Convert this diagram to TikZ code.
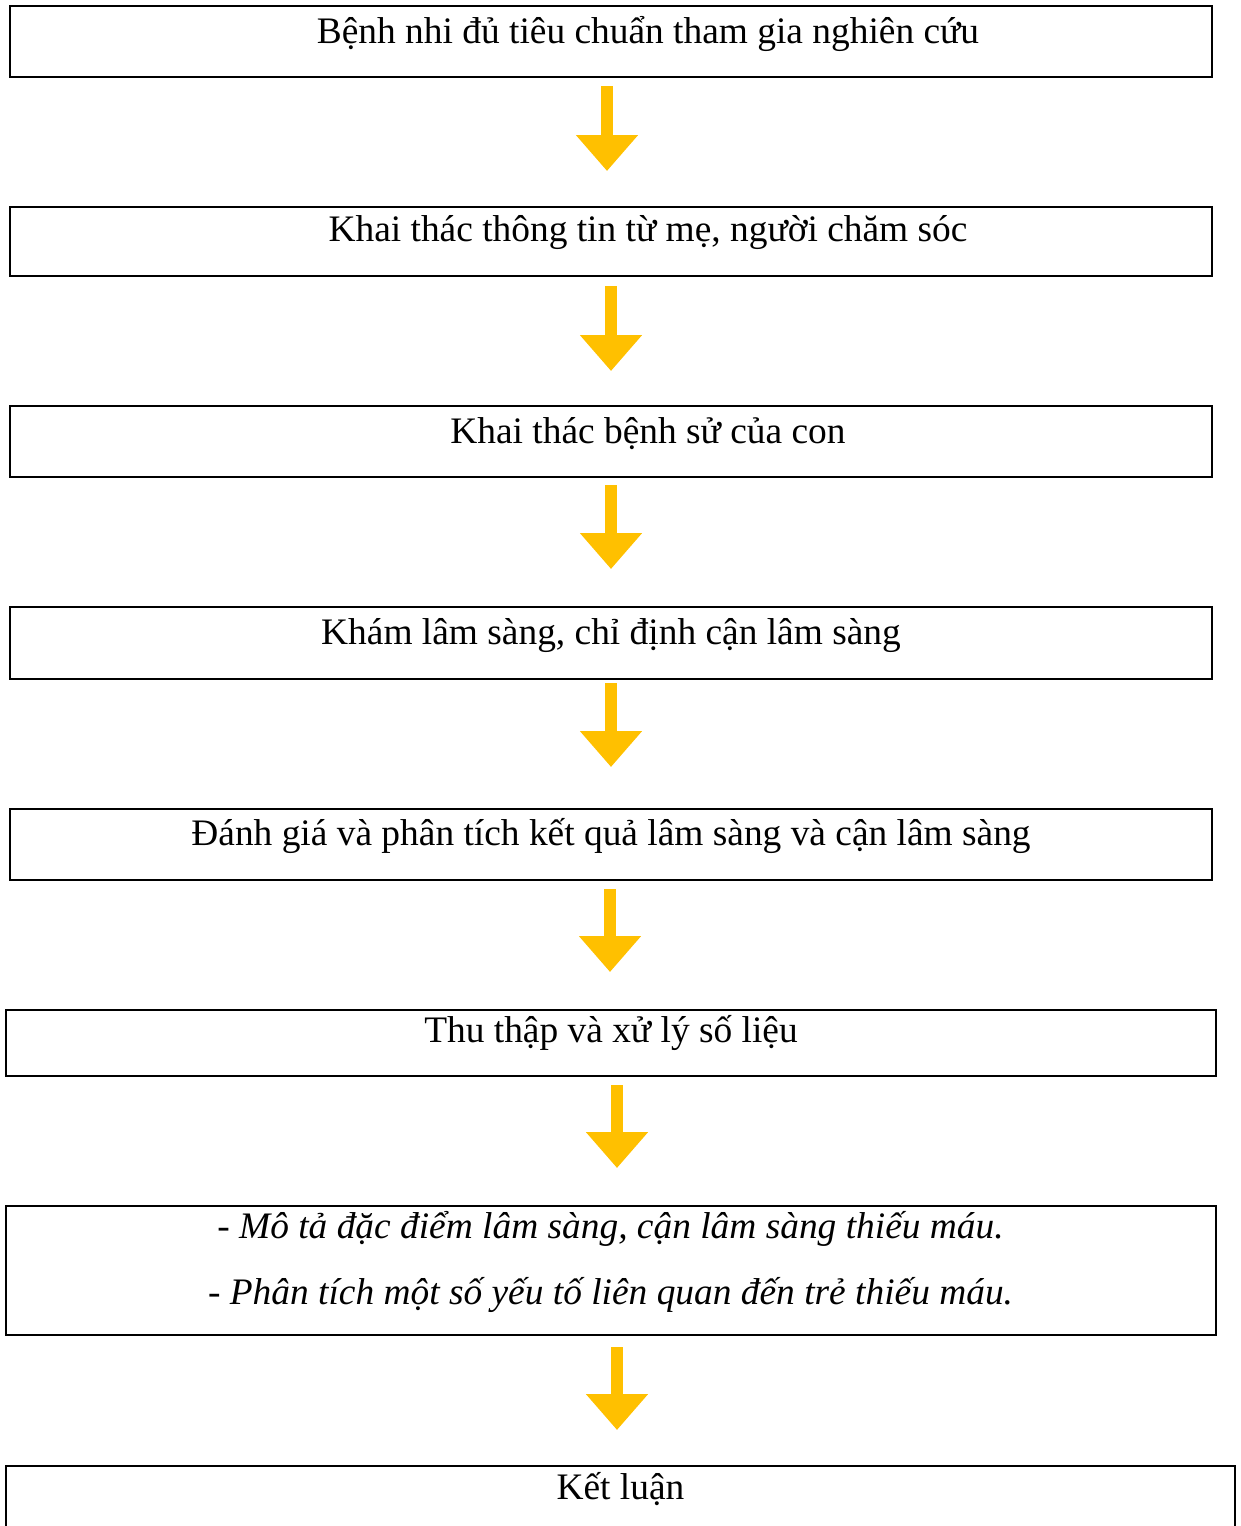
\documentclass[tikz,border=0pt]{standalone}
\usepackage{fontspec}
\setmainfont{Liberation Serif}
\usetikzlibrary{arrows.meta, positioning, calc}
\definecolor{flowyellow}{RGB}{255,192,0}

\begin{document}
\begin{tikzpicture}[x=1pt, y=-1pt,
  box/.style={rectangle, draw=black, line width=2.5pt, inner sep=0pt},
  txt/.style={anchor=base, inner sep=0pt, font=\fontsize{37.4}{42}\selectfont},
  arrow/.style={-{Triangle[width=60pt, length=36pt]}, line width=12pt, draw=flowyellow}
]
\useasboundingbox (0,0) rectangle (1240,1526);
% Boxes
\node[box, minimum width=1202pt, minimum height=71pt] (b1) at (611,41.5) {};
\node[box, minimum width=1202pt, minimum height=69pt] (b2) at (611,241.5) {};
\node[box, minimum width=1202pt, minimum height=71pt] (b3) at (611,441.5) {};
\node[box, minimum width=1202pt, minimum height=72pt] (b4) at (611,643) {};
\node[box, minimum width=1202pt, minimum height=71pt] (b5) at (611,844.5) {};
\node[box, minimum width=1210pt, minimum height=66pt] (b6) at (611,1043) {};
\node[box, minimum width=1210pt, minimum height=129pt] (b7) at (611,1270.5) {};
\node[box, minimum width=1229pt, minimum height=90pt] (b8) at (620.5,1511) {};
% Texts
\node[txt] (t1) at (648,43) {Bệnh nhi đủ tiêu chuẩn tham gia nghiên cứu};
\node[txt] (t2) at (648,241) {Khai thác thông tin từ mẹ, người chăm sóc};
\node[txt] (t3) at (648,443) {Khai thác bệnh sử của con};
\node[txt] (t4) at (611,644) {Khám lâm sàng, chỉ định cận lâm sàng};
\node[txt] (t5) at (611,845) {Đánh giá và phân tích kết quả lâm sàng và cận lâm sàng};
\node[txt] (t6) at (611,1042) {Thu thập và xử lý số liệu};
\node[txt, font=\fontsize{37.4}{42}\selectfont\itshape] (t7a) at (610.5,1238) {- Mô tả đặc điểm lâm sàng, cận lâm sàng thiếu máu.};
\node[txt, font=\fontsize{37.4}{42}\selectfont\itshape] (t7b) at (610.5,1304) {- Phân tích một số yếu tố liên quan đến trẻ thiếu máu.};
\node[txt] (t8) at (620.5,1499) {Kết luận};
% Arrows
\coordinate (a1s) at (607,86);   \coordinate (a1e) at (607,171);
\coordinate (a2s) at (611,286);  \coordinate (a2e) at (611,371);
\coordinate (a3s) at (611,485);  \coordinate (a3e) at (611,569);
\coordinate (a4s) at (611,683);  \coordinate (a4e) at (611,767);
\coordinate (a5s) at (610,889);  \coordinate (a5e) at (610,972);
\coordinate (a6s) at (617,1085); \coordinate (a6e) at (617,1168);
\coordinate (a7s) at (617,1347); \coordinate (a7e) at (617,1430);
\foreach \i in {1,...,7}
  \draw[arrow] (a\i s) -- (a\i e);
\end{tikzpicture}
\end{document}
